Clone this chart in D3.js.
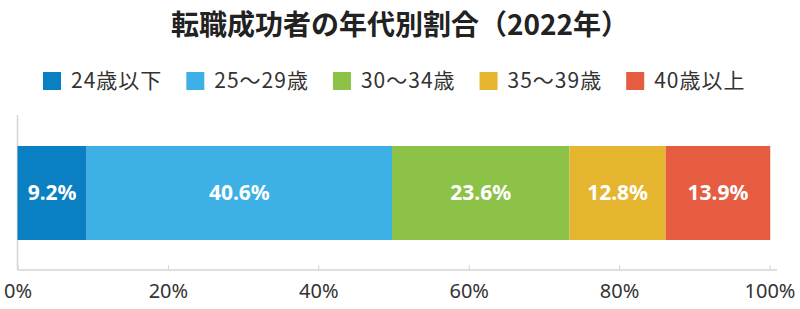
<!DOCTYPE html>
<html>
<head>
<meta charset="utf-8">
<script src="https://cdn.jsdelivr.net/npm/d3@7"></script>
<style>
  body { margin: 0; background: #fff; }
  svg { display: block; font-family: "Noto Sans CJK JP", "Noto Sans", sans-serif; }
</style>
</head>
<body>
<script>
// 転職成功者の年代別割合（2022年）
const categories = ['24歳以下', '25～29歳', '30～34歳', '35～39歳', '40歳以上'];
const values = [9.2, 40.6, 23.6, 12.8, 13.9];
const colors = ['#0a7fc2', '#3db0e6', '#8dc248', '#e5b530', '#e55c41'];
const ticks = [0, 20, 40, 60, 80, 100];

const WIDTH = 800, HEIGHT = 309;
const margin = {left: 17.5, right: 769.5};

const svg = d3.select('body').append('svg')
    .attr('width', WIDTH)
    .attr('height', HEIGHT);

// タイトル
svg.append('text')
    .attr('x', 400)
    .attr('y', 25)
    .attr('dy', '0.36em')
    .attr('text-anchor', 'middle')
    .attr('font-size', 28)
    .attr('font-weight', 'bold')
    .attr('fill', '#222')
    .text('転職成功者の年代別割合（2022年）');

// 積み上げデータ
let acc = 0;
const stacked = values.map((v, i) => {
    const d = {key: categories[i], value: v, x0: acc, x1: acc + v, color: colors[i]};
    acc += v;
    return d;
});

const xScale = d3.scaleLinear()
    .domain([0, 100])
    .range([margin.left, margin.right]);

const barTop = 146, barBottom = 240, axisY = 270;

// 凡例（テキスト幅を測って横に並べる）
const legend = svg.selectAll('.legend')
    .data(stacked)
    .enter().append('g')
        .attr('class', 'legend');

legend.append('rect')
    .attr('y', 72)
    .attr('width', 18)
    .attr('height', 18)
    .attr('fill', d => d.color);

legend.append('text')
    .attr('x', 28)
    .attr('y', 81)
    .attr('dy', '0.35em')
    .attr('font-size', 21)
    .attr('letter-spacing', 1)
    .attr('fill', '#333')
    .text(d => d.key);

let lx = 43;
legend.each(function() {
    const g = d3.select(this);
    g.attr('transform', `translate(${lx},0)`);
    lx += 28 + g.select('text').node().getComputedTextLength() + 24;
});

// 縦軸の線
svg.append('line')
    .attr('x1', margin.left).attr('x2', margin.left)
    .attr('y1', 115).attr('y2', axisY)
    .attr('stroke', '#d4d4d4')
    .attr('stroke-width', 1.5);

// 横軸
const xAxis = d3.axisBottom(xScale)
    .tickValues(ticks)
    .tickFormat(d => d + '%')
    .tickSize(-5)
    .tickPadding(14);

const gx = svg.append('g')
    .attr('class', 'axis axis--x')
    .attr('transform', `translate(0,${axisY})`)
    .call(xAxis);

gx.select('.domain').remove();
gx.append('line')
    .attr('x1', margin.left).attr('x2', 777)
    .attr('stroke', '#d4d4d4')
    .attr('stroke-width', 1.5);
gx.selectAll('.tick line').attr('stroke', '#d4d4d4');
gx.selectAll('.tick text')
    .attr('fill', '#333')
    .attr('font-size', 20)
    .attr('font-family', '"Noto Sans", sans-serif');

// 棒
svg.selectAll('.bar')
    .data(stacked)
    .enter().append('rect')
        .attr('class', 'bar')
        .attr('x', d => xScale(d.x0))
        .attr('y', barTop)
        .attr('width', d => xScale(d.x1) - xScale(d.x0))
        .attr('height', barBottom - barTop)
        .attr('fill', d => d.color);

// 値ラベル
svg.selectAll('.label')
    .data(stacked)
    .enter().append('text')
        .attr('class', 'label')
        .attr('x', d => xScale((d.x0 + d.x1) / 2))
        .attr('y', (barTop + barBottom) / 2)
        .attr('dy', '0.35em')
        .attr('text-anchor', 'middle')
        .attr('font-size', 21)
        .attr('font-weight', 'bold')
        .attr('font-family', '"Noto Sans", sans-serif')
        .attr('fill', '#fff')
        .text(d => d.value.toFixed(1) + '%');
</script>
</body>
</html>
